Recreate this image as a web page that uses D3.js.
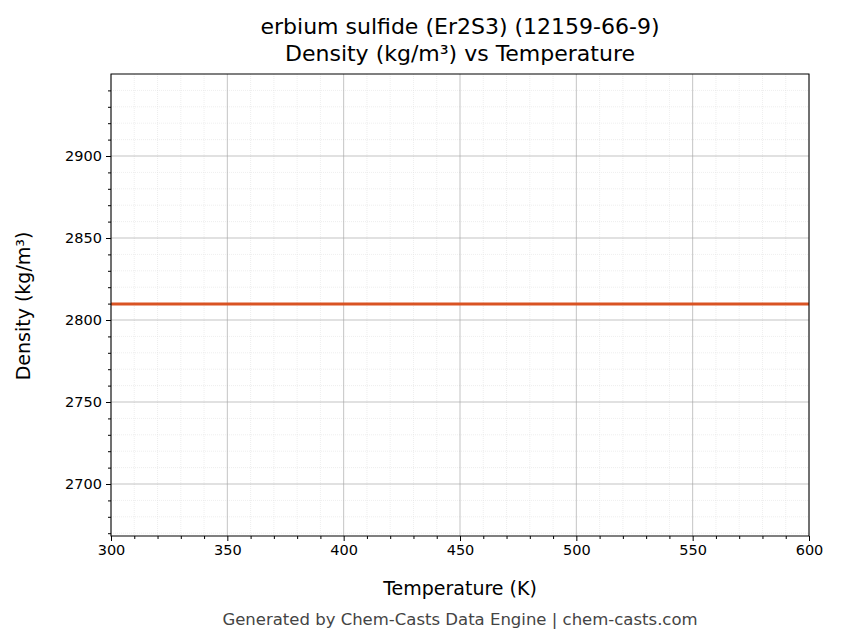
<!DOCTYPE html>
<html><head><meta charset="utf-8">
<script src="https://cdn.jsdelivr.net/npm/d3@7"></script>
<style>body{margin:0;background:#fff}text{font-family:"DejaVu Sans",sans-serif}</style>
</head><body>
<svg id="c" width="843" height="644"></svg>
<script>
const temps = [300, 600];
const density = [2809.8, 2809.8];
const xTicks = [300,350,400,450,500,550,600];
const yTicks = [2700,2750,2800,2850,2900];
const title1 = "erbium sulfide (Er2S3) (12159-66-9)";
const title2 = "Density (kg/m³) vs Temperature";

const svg = d3.select("#c");
const L=111,R=809,T=74,B=536;
const x = d3.scaleLinear().domain([300,600]).range([L,R]);
const y = d3.scaleLinear().domain([2668.3,2950]).range([B,T]);
const g = svg.append("g");
d3.range(300,601,10).forEach(v=>{ if(v%50) g.append("line").attr("x1",x(v)).attr("x2",x(v)).attr("y1",T).attr("y2",B).attr("stroke","#ddd").attr("stroke-width",0.5).attr("stroke-dasharray","1,1");});
d3.range(2670,2951,10).forEach(v=>{ if(v%50) g.append("line").attr("y1",y(v)).attr("y2",y(v)).attr("x1",L).attr("x2",R).attr("stroke","#ddd").attr("stroke-width",0.5).attr("stroke-dasharray","1,1");});
xTicks.forEach(v=>g.append("line").attr("x1",x(v)).attr("x2",x(v)).attr("y1",T).attr("y2",B).attr("stroke","#aaa").attr("stroke-width",0.7));
yTicks.forEach(v=>g.append("line").attr("y1",y(v)).attr("y2",y(v)).attr("x1",L).attr("x2",R).attr("stroke","#aaa").attr("stroke-width",0.7));
svg.append("path").datum(temps.map((t,i)=>[t,density[i]]))
 .attr("d",d3.line().x(d=>x(d[0])).y(d=>y(d[1]))).attr("stroke","#d95323").attr("stroke-width",3).attr("fill","none");
svg.append("rect").attr("x",L).attr("y",T).attr("width",R-L).attr("height",B-T).attr("fill","none").attr("stroke","#000").attr("stroke-width",1);
const xa = svg.append("g").attr("transform",`translate(0,${B})`).call(d3.axisBottom(x).tickValues(xTicks).tickSize(5).tickPadding(4));
const xm = svg.append("g").attr("transform",`translate(0,${B})`).call(d3.axisBottom(x).tickValues(d3.range(300,601,10).filter(v=>v%50)).tickSize(3).tickFormat(""));
const ya = svg.append("g").attr("transform",`translate(${L},0)`).call(d3.axisLeft(y).tickValues(yTicks).tickSize(5).tickPadding(4).tickFormat(d3.format("d")));
const ym = svg.append("g").attr("transform",`translate(${L},0)`).call(d3.axisLeft(y).tickValues(d3.range(2670,2951,10).filter(v=>v%50)).tickSize(3).tickFormat(""));
[xa,xm,ya,ym].forEach(a=>{a.select(".domain").remove();a.selectAll("text").style("font-size","14.5px").attr("fill","#000");});
svg.append("text").attr("x",460).attr("y",595).attr("text-anchor","middle").style("font-size","19px").text("Temperature (K)");
svg.append("text").attr("transform","translate(30,306) rotate(-90)").attr("text-anchor","middle").style("font-size","19px").text("Density (kg/m³)");
svg.append("text").attr("x",460).attr("y",34).attr("text-anchor","middle").style("font-size","22px").text(title1);
svg.append("text").attr("x",460).attr("y",61).attr("text-anchor","middle").style("font-size","22px").text(title2);
svg.append("text").attr("x",460).attr("y",625).attr("text-anchor","middle").style("font-size","16.5px").attr("fill","#444").text("Generated by Chem-Casts Data Engine | chem-casts.com");
</script></body></html>
